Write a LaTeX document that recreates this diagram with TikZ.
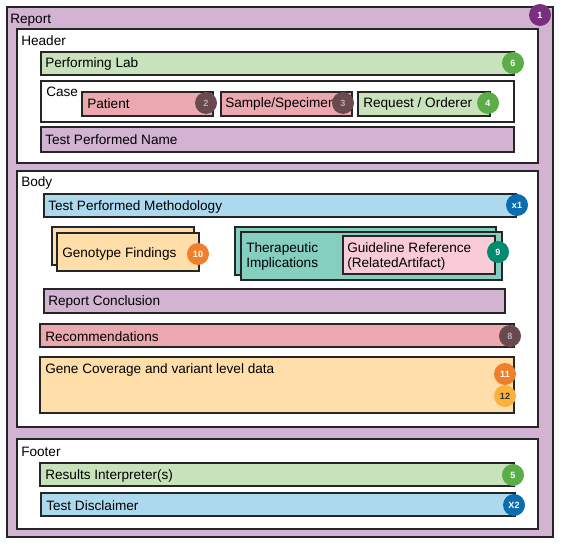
\documentclass[tikz,border=0pt]{standalone}
\usepackage{fontspec}
\setmainfont{Liberation Sans}
\definecolor{rptpurple}{HTML}{D2B4D2}
\definecolor{rptgreen}{HTML}{C8E2BC}
\definecolor{rptpink}{HTML}{EBA9AF}
\definecolor{rptblue}{HTML}{ADD9EE}
\definecolor{rptorange}{HTML}{FFDEAA}
\definecolor{rptteal}{HTML}{84CFBF}
\definecolor{rptrose}{HTML}{F8CBD7}
\definecolor{bpurple}{HTML}{7A2E7E}
\definecolor{bgreen}{HTML}{5BAE47}
\definecolor{bbrown}{HTML}{6A4A4E}
\definecolor{bblue}{HTML}{0A6DAE}
\definecolor{borange}{HTML}{F07F2C}
\definecolor{byellow}{HTML}{FBB13C}
\definecolor{bteal}{HTML}{008A6E}

\begin{document}
\begin{tikzpicture}[x=0.75pt,y=-0.75pt,
      box/.style={draw=black!85,line width=0.8pt},
      lbl/.style={anchor=west,inner sep=0pt,yshift=-1.2pt,
        font=\fontsize{10.2}{11.3}\selectfont},
      badge/.style={circle,fill=#1,minimum size=16.5pt,inner sep=0pt,
        text=white,font=\fontsize{6.8}{7}\selectfont\bfseries}]
    \useasboundingbox (0,0) rectangle (563,545);
    % report
    \draw[box,fill=rptpurple] (7,7) rectangle (553,537);
    \node[lbl] (report) at (10,19) {Report};
    \node[badge=bpurple] (b1) at (540,15) {1};
    % header
    \draw[box,fill=white] (17,29) rectangle (538,163);
    \node[lbl] (header) at (21,39) {Header};
    \draw[box,fill=rptgreen] (41,52) rectangle (514,75);
    \node[lbl] (lab) at (45,62) {Performing Lab};
    \node[badge=bgreen] (b6) at (513,63) {6};
    \draw[box,fill=white] (41,81) rectangle (514,122);
    \node[lbl] (case) at (46,90) {Case};
    \draw[box,fill=rptpink] (82,92) rectangle (213,116);
    \node[lbl] (patient) at (87,102) {Patient};
    \node[badge=bbrown,text=black!30] (b2) at (206,103) {2};
    \draw[box,fill=rptpink] (221,92) rectangle (352,116);
    \node[lbl] (sample) at (225,102) {Sample/Specimen};
    \node[badge=bbrown,text=black!30] (b3) at (343,103) {3};
    \draw[box,fill=rptgreen] (358,92) rectangle (490,116);
    \node[lbl] (request) at (363,102) {Request / Orderer};
    \node[badge=bgreen] (b4) at (488,103) {4};
    \draw[box,fill=rptpurple] (41,127) rectangle (514,152);
    \node[lbl] (testname) at (45,138) {Test Performed Name};
    % body
    \draw[box,fill=white] (17,171) rectangle (538,427);
    \node[lbl] (body) at (21,181) {Body};
    \draw[box,fill=rptblue] (44,194) rectangle (516,217);
    \node[lbl] (method) at (48,205) {Test Performed Methodology};
    \node[badge=bblue] (bx1) at (517,205) {x1};
    \draw[box,fill=rptorange] (52,227) rectangle (194,265);
    \draw[box,fill=rptorange] (57,233) rectangle (199,271);
    \node[lbl] (genotype) at (62,252) {Genotype Findings};
    \node[badge=borange] (b10) at (198,254) {10};
    \draw[box,fill=rptteal] (235,227) rectangle (496,275);
    \draw[box,fill=rptteal] (241,232) rectangle (502,280);
    \node[lbl,align=left] (therapy) at (246,255) {Therapeutic\\Implications};
    \draw[box,fill=rptrose] (343,236) rectangle (495,274);
    \node[lbl,align=left] (guide) at (347,255) {Guideline Reference\\(RelatedArtifact)};
    \node[badge=bteal] (b9) at (498,252) {9};
    \draw[box,fill=rptpurple] (44,289) rectangle (505,313);
    \node[lbl] (conclusion) at (48,300) {Report Conclusion};
    \draw[box,fill=rptpink] (40,324) rectangle (514,347);
    \node[lbl] (recommend) at (45,335) {Recommendations};
    \node[badge=bbrown,text=black!30] (b8) at (510,336) {8};
    \draw[box,fill=rptorange] (40,357) rectangle (514,413);
    \node[lbl] (coverage) at (45,368) {Gene Coverage and variant level data};
    \node[badge=borange] (b11) at (505,374) {11};
    \node[badge=byellow,text=black!80] (b12) at (505,396) {12};
    % footer
    \draw[box,fill=white] (17,439) rectangle (538,529);
    \node[lbl] (footer) at (21,450) {Footer};
    \draw[box,fill=rptgreen] (40,463) rectangle (514,486);
    \node[lbl] (interpreter) at (45,474) {Results Interpreter(s)};
    \node[badge=bgreen] (b5) at (513,475) {5};
    \draw[box,fill=rptblue] (41,493) rectangle (515,516);
    \node[lbl] (disclaimer) at (46,504) {Test Disclaimer};
    \node[badge=bblue] (bx2) at (514,505) {X2};
  \end{tikzpicture}
\end{document}
